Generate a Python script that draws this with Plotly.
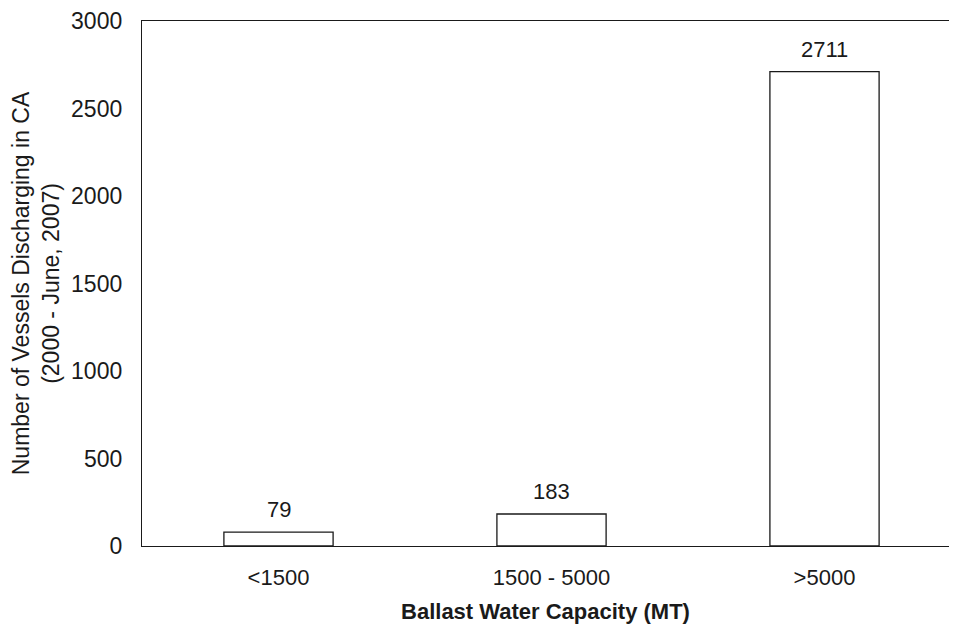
import plotly.graph_objects as go

categories = ["<1500", "1500 - 5000", ">5000"]
vessels = [79, 183, 2711]
y_ticks = [0, 500, 1000, 1500, 2000, 2500, 3000]

font = "Liberation Sans, Arial, sans-serif"
ink = "#1a1a1a"

fig = go.Figure(go.Bar(
    x=categories,
    y=vessels,
    width=0.4,
    marker=dict(color="white", line=dict(color=ink, width=1.3)),
    hoverinfo="x+y",
))

for c, v in zip(categories, vessels):
    fig.add_annotation(
        x=c, y=v, text=str(v), showarrow=False,
        xanchor="center", yanchor="bottom", yshift=8,
        font=dict(family=font, size=22, color=ink),
    )

fig.update_layout(
    width=941, height=616,
    margin=dict(l=134, r=0, t=13, b=78, autoexpand=False),
    paper_bgcolor="white", plot_bgcolor="white",
    font=dict(family=font, size=22, color=ink),
    showlegend=False,
)
fig.update_xaxes(
    type="category",
    range=[-0.5, 2.456],
    showline=True, linecolor=ink, linewidth=1.3, mirror=True,
    ticks="", showgrid=False,
    tickfont=dict(size=22),
    ticklabelstandoff=11,
    title=dict(text="<b>Ballast Water Capacity (MT)</b>", font=dict(size=22), standoff=27),
)
fig.update_yaxes(
    range=[0, 3000],
    tickvals=y_ticks,
    showline=True, linecolor=ink, linewidth=1.3,
    ticks="", showgrid=False, zeroline=False,
    tickfont=dict(size=23),
    ticklabelstandoff=14,
    ticklabeloverflow="allow",
    title=dict(text="Number of Vessels Discharging in CA<br>(2000 - June, 2007)", font=dict(size=23), standoff=16),
)

fig.write_html("out.html")
